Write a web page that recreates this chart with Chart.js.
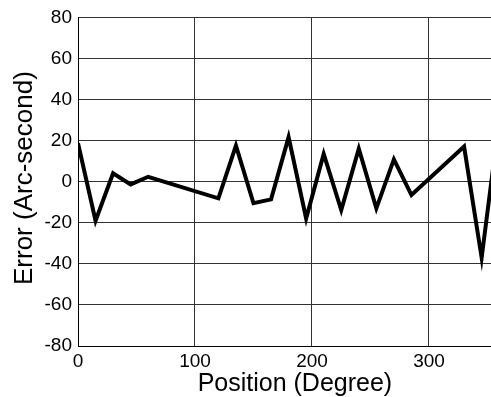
<!DOCTYPE html>
<html>
<head>
<meta charset="utf-8">
<script src="https://cdn.jsdelivr.net/npm/chart.js@4/dist/chart.umd.min.js"></script>
<style>
  html, body { margin: 0; padding: 0; background: #fff; }
  #wrap { width: 491px; height: 397px; }
</style>
</head>
<body>
<div id="wrap"><canvas id="myChart"></canvas></div>
<script>
'use strict';
// Values
const positions = [0, 15, 30, 45, 60, 120, 135, 150, 165, 180, 195, 210, 225, 240, 255, 270, 285, 330, 345, 360];
const errors = [18.7, -19, 4.1, -1.3, 2.4, -8.1, 17.6, -10.5, -8.6, 21.7, -17.9, 13.5, -13.8, 16.1, -13, 10.9, -6.5, 17.1, -37, 30];
const xTicks = [0, 100, 200, 300];
const yTicks = [-80, -60, -40, -20, 0, 20, 40, 60, 80];

const font = 'Arial, "Liberation Sans", sans-serif';
Chart.defaults.font.family = font;
Chart.defaults.color = '#000';

function renderChart() {
    const ctx = document.getElementById('myChart').getContext('2d');
    new Chart(ctx, {
        type: 'line',
        data: {
            datasets: [{
                data: positions.map((p, i) => ({x: p, y: errors[i]})),
                borderColor: '#000',
                borderWidth: 4,
                borderJoinStyle: 'miter',
                pointRadius: 0,
                tension: 0,
                fill: false
            }]
        },
        options: {
            responsive: true,
            maintainAspectRatio: false,
            animation: false,
            layout: { padding: { top: 17, right: 0, left: 0, bottom: 0 } },
            plugins: { legend: { display: false }, tooltip: { enabled: false } },
            scales: {
                x: {
                    type: 'linear',
                    min: 0,
                    max: 353,
                    afterBuildTicks: axis => { axis.ticks = xTicks.map(v => ({value: v})); },
                    afterFit: axis => { axis.height = 51; },
                    grid: { color: '#333', lineWidth: 1, drawTicks: false },
                    border: { color: '#000', width: 1 },
                    ticks: { font: { size: 19 }, padding: 4, maxRotation: 0 },
                    // leading spaces nudge the title right, like the original
                    title: { display: true, text: '\u00a0\u00a0\u00a0Position (Degree)', font: { size: 25, lineHeight: 1 }, padding: 0 }
                },
                y: {
                    min: -80,
                    max: 80,
                    afterBuildTicks: axis => { axis.ticks = yTicks.map(v => ({value: v})); },
                    afterFit: axis => { axis.width = 78; },
                    grid: { color: '#333', lineWidth: 1, drawTicks: false },
                    border: { color: '#000', width: 1 },
                    ticks: { font: { size: 19 }, padding: 6 },
                    title: { display: true, text: '\u00a0Error (Arc-second)', font: { size: 26, lineHeight: 1 }, padding: { top: 12, bottom: 0 } }
                }
            }
        }
    });
}

renderChart();
</script>
</body>
</html>
